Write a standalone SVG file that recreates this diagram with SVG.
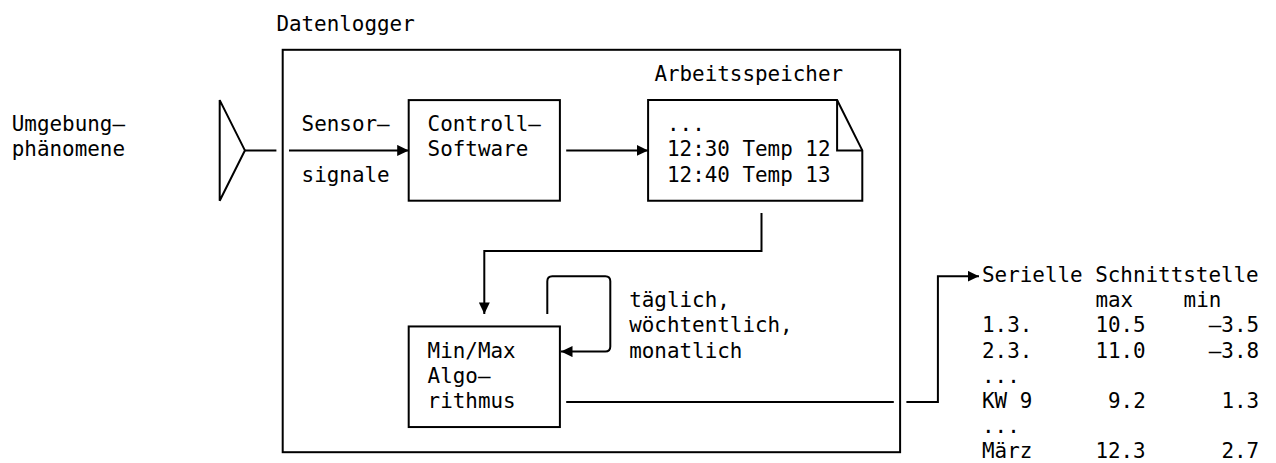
<svg xmlns="http://www.w3.org/2000/svg" width="1276" height="463" viewBox="0 0 1276 463">
<style>
  text { font-family: "DejaVu Sans Mono", "Liberation Mono", monospace; font-size: 20.9px; fill: #000; }
  .box { fill: none; stroke: #000; stroke-width: 2; }
  .line { fill: none; stroke: #000; stroke-width: 2; }
</style>
<defs>
  <marker id="arrow" markerUnits="userSpaceOnUse" markerWidth="12" markerHeight="11" refX="11.5" refY="5.5" orient="auto">
    <path d="M0,0 L11.5,5.5 L0,11 Z" fill="#000"/>
  </marker>
</defs>
<rect x="0" y="0" width="1276" height="463" fill="#fff"/>

<g id="datenlogger">
  <rect class="box" x="282.7" y="49.8" width="617.4" height="402.4"/>
  <text x="276.4" y="30.6">Datenlogger</text>
</g>

<g id="umgebung">
  <text x="11.8" y="131.2">Umgebung—</text>
  <text x="11.8" y="156.4">phänomene</text>
</g>

<g id="sensor">
  <polygon class="box" points="219.7,100.1 244.9,150.4 219.7,200.7"/>
</g>

<g id="controll">
  <rect class="box" x="408.7" y="100.1" width="151.2" height="100.6"/>
  <text x="427.6" y="131.2">Controll—</text>
  <text x="427.6" y="156.4">Software</text>
</g>

<g id="arbeitsspeicher">
  <text x="654.4" y="80.9">Arbeitsspeicher</text>
  <path class="box" d="M648.1,100.1 H837.1 L862.3,150.4 V200.7 H648.1 Z"/>
  <path class="line" d="M837.1,100.1 V150.4 H862.3"/>
  <text x="667" y="131.2">...</text>
  <text x="667" y="156.4">12:30 Temp 12</text>
  <text x="667" y="181.5">12:40 Temp 13</text>
</g>

<g id="minmax">
  <rect class="box" x="408.7" y="326.45" width="151.2" height="100.6"/>
  <text x="427.6" y="357.6">Min/Max</text>
  <text x="427.6" y="382.7">Algo—</text>
  <text x="427.6" y="407.9">rithmus</text>
</g>

<g id="schnittstelle">
  <text x="982" y="282.1">Serielle Schnittstelle</text>
  <text y="307.3"><tspan x="1095.4">max</tspan><tspan x="1183.6">min</tspan></text>
  <text y="332.4"><tspan x="982">1.3.</tspan><tspan x="1095.4">10.5</tspan><tspan x="1208.8">—3.5</tspan></text>
  <text y="357.6"><tspan x="982">2.3.</tspan><tspan x="1095.4">11.0</tspan><tspan x="1208.8">—3.8</tspan></text>
  <text x="982" y="382.7">...</text>
  <text y="407.9"><tspan x="982">KW 9</tspan><tspan x="1108">9.2</tspan><tspan x="1221.4">1.3</tspan></text>
  <text x="982" y="433">...</text>
  <text y="458.2"><tspan x="982">März</tspan><tspan x="1095.4">12.3</tspan><tspan x="1221.4">2.7</tspan></text>
</g>

<g id="connectors">
  <path class="line" d="M244.9,150.4 H276.4"/>
  <path class="line" d="M289,150.4 H408.7" marker-end="url(#arrow)"/>
  <path class="line" d="M566.2,150.4 H648.1" marker-end="url(#arrow)"/>
  <path class="line" d="M761.5,212.9 V251 H484.3 V313.9" marker-end="url(#arrow)"/>
  <path class="line" d="M547.3,313.9 V281.2 Q547.3,276.15 552.3,276.15 H605.3 Q610.3,276.15 610.3,281.2 V346.6 Q610.3,351.6 605.3,351.6 H561" marker-end="url(#arrow)"/>
  <path class="line" d="M566.2,401.9 H893.8"/>
  <path class="line" d="M906.4,401.9 H937.9 V276.15 H979" marker-end="url(#arrow)"/>
  <text x="301.6" y="131.2">Sensor—</text>
  <text x="301.6" y="181.5">signale</text>
  <text x="629.2" y="307.3">täglich,</text>
  <text x="629.2" y="332.4">wöchtentlich,</text>
  <text x="629.2" y="357.6">monatlich</text>
</g>
</svg>
